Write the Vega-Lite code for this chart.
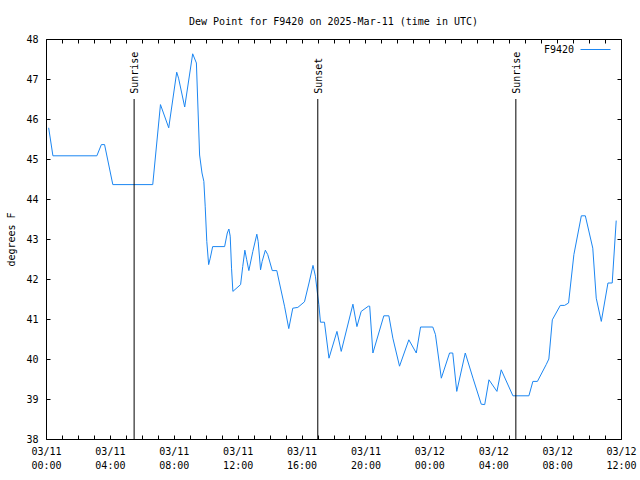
{
  "$schema": "https://vega.github.io/schema/vega-lite/v6.json",
  "autosize": "none",
  "width": 575,
  "height": 400,
  "padding": {"left": 46, "top": 39, "right": 19, "bottom": 41},
  "background": "white",
  "title": {"text": "Dew Point for F9420 on 2025-Mar-11 (time in UTC)", "fontSize": 10, "fontWeight": "normal", "font": "DejaVu Sans Mono", "anchor": "middle", "frame": "group", "baseline": "middle", "offset": 2, "color": "black"},
  "config": {
    "view": {"stroke": "black", "strokeWidth": 1},
    "font": "DejaVu Sans Mono",
    "axis": {"grid": false, "domain": false, "tickColor": "black", "labelColor": "black", "labelFont": "DejaVu Sans Mono", "labelFontSize": 10, "titleFont": "DejaVu Sans Mono", "titleFontSize": 10, "titleFontWeight": "normal", "titleColor": "black", "labelOverlap": false, "labelFlush": false, "labelBound": false}
  },
  "datasets": {
    "dew": [
      {"time": "2025-03-11T00:10:00Z", "dewpoint": 45.78, "station": "F9420"},
      {"time": "2025-03-11T00:26:00Z", "dewpoint": 45.08, "station": "F9420"},
      {"time": "2025-03-11T03:11:00Z", "dewpoint": 45.08, "station": "F9420"},
      {"time": "2025-03-11T03:28:00Z", "dewpoint": 45.36, "station": "F9420"},
      {"time": "2025-03-11T03:40:00Z", "dewpoint": 45.36, "station": "F9420"},
      {"time": "2025-03-11T04:11:00Z", "dewpoint": 44.36, "station": "F9420"},
      {"time": "2025-03-11T06:41:00Z", "dewpoint": 44.36, "station": "F9420"},
      {"time": "2025-03-11T07:10:00Z", "dewpoint": 46.36, "station": "F9420"},
      {"time": "2025-03-11T07:41:00Z", "dewpoint": 45.78, "station": "F9420"},
      {"time": "2025-03-11T08:11:00Z", "dewpoint": 47.17, "station": "F9420"},
      {"time": "2025-03-11T08:18:00Z", "dewpoint": 47.02, "station": "F9420"},
      {"time": "2025-03-11T08:41:00Z", "dewpoint": 46.3, "station": "F9420"},
      {"time": "2025-03-11T09:11:00Z", "dewpoint": 47.63, "station": "F9420"},
      {"time": "2025-03-11T09:25:00Z", "dewpoint": 47.4, "station": "F9420"},
      {"time": "2025-03-11T09:37:00Z", "dewpoint": 45.1, "station": "F9420"},
      {"time": "2025-03-11T09:46:00Z", "dewpoint": 44.65, "station": "F9420"},
      {"time": "2025-03-11T09:53:00Z", "dewpoint": 44.44, "station": "F9420"},
      {"time": "2025-03-11T09:58:00Z", "dewpoint": 43.82, "station": "F9420"},
      {"time": "2025-03-11T10:04:00Z", "dewpoint": 42.94, "station": "F9420"},
      {"time": "2025-03-11T10:11:00Z", "dewpoint": 42.36, "station": "F9420"},
      {"time": "2025-03-11T10:17:00Z", "dewpoint": 42.52, "station": "F9420"},
      {"time": "2025-03-11T10:26:00Z", "dewpoint": 42.81, "station": "F9420"},
      {"time": "2025-03-11T11:11:00Z", "dewpoint": 42.81, "station": "F9420"},
      {"time": "2025-03-11T11:21:00Z", "dewpoint": 43.15, "station": "F9420"},
      {"time": "2025-03-11T11:27:00Z", "dewpoint": 43.25, "station": "F9420"},
      {"time": "2025-03-11T11:32:00Z", "dewpoint": 43.07, "station": "F9420"},
      {"time": "2025-03-11T11:37:00Z", "dewpoint": 42.27, "station": "F9420"},
      {"time": "2025-03-11T11:42:00Z", "dewpoint": 41.69, "station": "F9420"},
      {"time": "2025-03-11T12:11:00Z", "dewpoint": 41.86, "station": "F9420"},
      {"time": "2025-03-11T12:19:00Z", "dewpoint": 42.31, "station": "F9420"},
      {"time": "2025-03-11T12:27:00Z", "dewpoint": 42.72, "station": "F9420"},
      {"time": "2025-03-11T12:34:00Z", "dewpoint": 42.48, "station": "F9420"},
      {"time": "2025-03-11T12:42:00Z", "dewpoint": 42.21, "station": "F9420"},
      {"time": "2025-03-11T12:57:00Z", "dewpoint": 42.69, "station": "F9420"},
      {"time": "2025-03-11T13:12:00Z", "dewpoint": 43.12, "station": "F9420"},
      {"time": "2025-03-11T13:17:00Z", "dewpoint": 42.94, "station": "F9420"},
      {"time": "2025-03-11T13:26:00Z", "dewpoint": 42.23, "station": "F9420"},
      {"time": "2025-03-11T13:32:00Z", "dewpoint": 42.44, "station": "F9420"},
      {"time": "2025-03-11T13:44:00Z", "dewpoint": 42.72, "station": "F9420"},
      {"time": "2025-03-11T13:53:00Z", "dewpoint": 42.61, "station": "F9420"},
      {"time": "2025-03-11T14:10:00Z", "dewpoint": 42.21, "station": "F9420"},
      {"time": "2025-03-11T14:27:00Z", "dewpoint": 42.21, "station": "F9420"},
      {"time": "2025-03-11T14:37:00Z", "dewpoint": 41.9, "station": "F9420"},
      {"time": "2025-03-11T14:56:00Z", "dewpoint": 41.32, "station": "F9420"},
      {"time": "2025-03-11T15:12:00Z", "dewpoint": 40.76, "station": "F9420"},
      {"time": "2025-03-11T15:27:00Z", "dewpoint": 41.27, "station": "F9420"},
      {"time": "2025-03-11T15:46:00Z", "dewpoint": 41.29, "station": "F9420"},
      {"time": "2025-03-11T16:11:00Z", "dewpoint": 41.43, "station": "F9420"},
      {"time": "2025-03-11T16:28:00Z", "dewpoint": 41.9, "station": "F9420"},
      {"time": "2025-03-11T16:43:00Z", "dewpoint": 42.34, "station": "F9420"},
      {"time": "2025-03-11T16:52:00Z", "dewpoint": 42.07, "station": "F9420"},
      {"time": "2025-03-11T17:01:00Z", "dewpoint": 41.57, "station": "F9420"},
      {"time": "2025-03-11T17:05:00Z", "dewpoint": 41.36, "station": "F9420"},
      {"time": "2025-03-11T17:11:00Z", "dewpoint": 40.92, "station": "F9420"},
      {"time": "2025-03-11T17:26:00Z", "dewpoint": 40.92, "station": "F9420"},
      {"time": "2025-03-11T17:43:00Z", "dewpoint": 40.02, "station": "F9420"},
      {"time": "2025-03-11T18:13:00Z", "dewpoint": 40.69, "station": "F9420"},
      {"time": "2025-03-11T18:29:00Z", "dewpoint": 40.19, "station": "F9420"},
      {"time": "2025-03-11T19:13:00Z", "dewpoint": 41.37, "station": "F9420"},
      {"time": "2025-03-11T19:28:00Z", "dewpoint": 40.81, "station": "F9420"},
      {"time": "2025-03-11T19:44:00Z", "dewpoint": 41.19, "station": "F9420"},
      {"time": "2025-03-11T20:11:00Z", "dewpoint": 41.32, "station": "F9420"},
      {"time": "2025-03-11T20:16:00Z", "dewpoint": 41.32, "station": "F9420"},
      {"time": "2025-03-11T20:28:00Z", "dewpoint": 40.15, "station": "F9420"},
      {"time": "2025-03-11T21:09:00Z", "dewpoint": 41.08, "station": "F9420"},
      {"time": "2025-03-11T21:28:00Z", "dewpoint": 41.08, "station": "F9420"},
      {"time": "2025-03-11T21:43:00Z", "dewpoint": 40.52, "station": "F9420"},
      {"time": "2025-03-11T22:08:00Z", "dewpoint": 39.82, "station": "F9420"},
      {"time": "2025-03-11T22:43:00Z", "dewpoint": 40.48, "station": "F9420"},
      {"time": "2025-03-11T23:11:00Z", "dewpoint": 40.15, "station": "F9420"},
      {"time": "2025-03-11T23:27:00Z", "dewpoint": 40.8, "station": "F9420"},
      {"time": "2025-03-12T00:13:00Z", "dewpoint": 40.8, "station": "F9420"},
      {"time": "2025-03-12T00:23:00Z", "dewpoint": 40.61, "station": "F9420"},
      {"time": "2025-03-12T00:45:00Z", "dewpoint": 39.52, "station": "F9420"},
      {"time": "2025-03-12T01:16:00Z", "dewpoint": 40.15, "station": "F9420"},
      {"time": "2025-03-12T01:28:00Z", "dewpoint": 40.15, "station": "F9420"},
      {"time": "2025-03-12T01:43:00Z", "dewpoint": 39.19, "station": "F9420"},
      {"time": "2025-03-12T02:15:00Z", "dewpoint": 40.15, "station": "F9420"},
      {"time": "2025-03-12T02:44:00Z", "dewpoint": 39.52, "station": "F9420"},
      {"time": "2025-03-12T03:15:00Z", "dewpoint": 38.87, "station": "F9420"},
      {"time": "2025-03-12T03:28:00Z", "dewpoint": 38.86, "station": "F9420"},
      {"time": "2025-03-12T03:44:00Z", "dewpoint": 39.48, "station": "F9420"},
      {"time": "2025-03-12T04:14:00Z", "dewpoint": 39.19, "station": "F9420"},
      {"time": "2025-03-12T04:30:00Z", "dewpoint": 39.73, "station": "F9420"},
      {"time": "2025-03-12T05:14:00Z", "dewpoint": 39.08, "station": "F9420"},
      {"time": "2025-03-12T06:14:00Z", "dewpoint": 39.08, "station": "F9420"},
      {"time": "2025-03-12T06:29:00Z", "dewpoint": 39.44, "station": "F9420"},
      {"time": "2025-03-12T06:46:00Z", "dewpoint": 39.44, "station": "F9420"},
      {"time": "2025-03-12T07:19:00Z", "dewpoint": 39.86, "station": "F9420"},
      {"time": "2025-03-12T07:29:00Z", "dewpoint": 40.0, "station": "F9420"},
      {"time": "2025-03-12T07:42:00Z", "dewpoint": 40.98, "station": "F9420"},
      {"time": "2025-03-12T08:12:00Z", "dewpoint": 41.34, "station": "F9420"},
      {"time": "2025-03-12T08:28:00Z", "dewpoint": 41.34, "station": "F9420"},
      {"time": "2025-03-12T08:43:00Z", "dewpoint": 41.4, "station": "F9420"},
      {"time": "2025-03-12T09:03:00Z", "dewpoint": 42.61, "station": "F9420"},
      {"time": "2025-03-12T09:31:00Z", "dewpoint": 43.58, "station": "F9420"},
      {"time": "2025-03-12T09:46:00Z", "dewpoint": 43.58, "station": "F9420"},
      {"time": "2025-03-12T10:14:00Z", "dewpoint": 42.77, "station": "F9420"},
      {"time": "2025-03-12T10:27:00Z", "dewpoint": 41.52, "station": "F9420"},
      {"time": "2025-03-12T10:46:00Z", "dewpoint": 40.94, "station": "F9420"},
      {"time": "2025-03-12T11:11:00Z", "dewpoint": 41.9, "station": "F9420"},
      {"time": "2025-03-12T11:27:00Z", "dewpoint": 41.9, "station": "F9420"},
      {"time": "2025-03-12T11:42:00Z", "dewpoint": 43.46, "station": "F9420"}
    ],
    "sun": [
      {"time": "2025-03-11T05:31:00Z", "event": "Sunrise"},
      {"time": "2025-03-11T17:01:00Z", "event": "Sunset"},
      {"time": "2025-03-12T05:25:00Z", "event": "Sunrise"}
    ]
  },
  "resolve": {"axis": {"x": "independent", "y": "independent"}},
  "layer": [
    {
      "data": {"name": "dew"},
      "mark": {"type": "line", "strokeWidth": 1, "interpolate": "linear"},
      "encoding": {
        "x": {"field": "time", "type": "temporal",
          "scale": {"type": "utc", "domain": [1741651200000, 1741780800000], "nice": false},
          "axis": {"orient": "bottom", "title": null, "tickSize": -4, "labelPadding": 11, "labelLineHeight": 14, "labelBaseline": "top", "labelAlign": "center", "labelOverlap": false,
            "values": [1741651200000,1741654800000,1741658400000,1741662000000,1741665600000,1741669200000,1741672800000,1741676400000,1741680000000,1741683600000,1741687200000,1741690800000,1741694400000,1741698000000,1741701600000,1741705200000,1741708800000,1741712400000,1741716000000,1741719600000,1741723200000,1741726800000,1741730400000,1741734000000,1741737600000,1741741200000,1741744800000,1741748400000,1741752000000,1741755600000,1741759200000,1741762800000,1741766400000,1741770000000,1741773600000,1741777200000,1741780800000],
            "labelExpr": "utchours(datum.value) % 4 == 0 ? [utcFormat(datum.value, '%m/%d'), utcFormat(datum.value, '%H:%M')] : ''"}},
        "y": {"field": "dewpoint", "type": "quantitative",
          "scale": {"domain": [38, 48], "nice": false, "zero": false},
          "axis": {"orient": "left", "title": "degrees F", "tickSize": -4, "labelPadding": 12, "labelOverlap": false, "values": [38,39,40,41,42,43,44,45,46,47,48], "titleX": -35, "titleY": 200, "titleAlign": "center", "titleBaseline": "middle", "titleAngle": 270}},
        "color": {"field": "station", "type": "nominal",
          "scale": {"range": ["#1b86f2"]},
          "legend": {"title": null, "orient": "none", "legendX": 534, "legendY": -5, "symbolType": "stroke", "symbolSize": 900, "symbolStrokeWidth": 1, "labelAlign": "right", "labelOffset": -37, "labelFontSize": 10, "labelFont": "DejaVu Sans Mono", "labelColor": "black", "padding": 0}}
      }
    },
    {
      "data": {"name": "sun"},
      "mark": {"type": "rule", "color": "black", "strokeWidth": 1},
      "encoding": {
        "x": {"field": "time", "type": "temporal",
          "axis": {"orient": "top", "title": null, "tickSize": -4, "labels": false,
            "values": [1741651200000,1741654800000,1741658400000,1741662000000,1741665600000,1741669200000,1741672800000,1741676400000,1741680000000,1741683600000,1741687200000,1741690800000,1741694400000,1741698000000,1741701600000,1741705200000,1741708800000,1741712400000,1741716000000,1741719600000,1741723200000,1741726800000,1741730400000,1741734000000,1741737600000,1741741200000,1741744800000,1741748400000,1741752000000,1741755600000,1741759200000,1741762800000,1741766400000,1741770000000,1741773600000,1741777200000,1741780800000]}},
        "y": {"datum": 46.5, "type": "quantitative",
          "axis": {"orient": "right", "title": null, "tickSize": -4, "labels": false, "values": [38,39,40,41,42,43,44,45,46,47,48]}},
        "y2": {"datum": 38}
      }
    },
    {
      "data": {"name": "sun"},
      "mark": {"type": "text", "angle": 270, "align": "left", "baseline": "middle", "fontSize": 10, "font": "DejaVu Sans Mono", "color": "black", "dy": 1},
      "encoding": {
        "x": {"field": "time", "type": "temporal", "axis": null},
        "y": {"datum": 46.63, "type": "quantitative", "axis": null},
        "text": {"field": "event"}
      }
    }
  ]
}
